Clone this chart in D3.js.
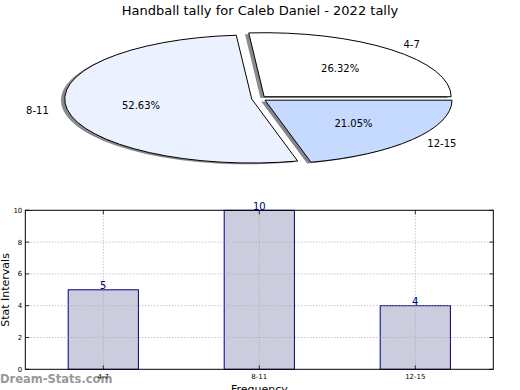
<!DOCTYPE html>
<html>
<head>
<meta charset="utf-8">
<script src="https://cdn.jsdelivr.net/npm/d3@7"></script>
<style>
  body { margin: 0; background: #fff; }
  svg { display: block; font-family: "DejaVu Sans", sans-serif; }
</style>
</head>
<body>
<div id="chart"></div>
<script>
const title = 'Handball tally for Caleb Daniel - 2022 tally';
const categories = ['4-7', '8-11', '12-15'];
const counts = [5, 10, 4];
const pieColors = ['#ffffff', '#ebf1fe', '#c6d9fe'];
const yTicks = [0, 2, 4, 6, 8, 10];

const width = 520, height = 390;

const svg = d3.select('#chart')
  .append('svg')
  .attr('width', width)
  .attr('height', height);

svg.append('text')
  .attr('x', 260)
  .attr('y', 15)
  .attr('text-anchor', 'middle')
  .style('font-size', '13px')
  .text(title);

// pie (squashed, like a non-equal aspect matplotlib pie)
const cx = 259.1, cy = 98.6, rx = 187, ry = 64;
const explode = 0.04;
const total = d3.sum(counts);

const pie = d3.pie()
  .sort(null)
  .startAngle(Math.PI / 2)
  .endAngle(Math.PI / 2 - 2 * Math.PI);
const arcs = pie(counts);
const arc = d3.arc().innerRadius(0).outerRadius(rx);

const pg = svg.append('g')
  .attr('transform', `translate(${cx},${cy}) scale(1,${ry / rx})`);

const mid = d => (d.startAngle + d.endAngle) / 2;
const shift = d => `translate(${explode * rx * Math.sin(mid(d))},${-explode * rx * Math.cos(mid(d))})`;

// shadows first, under all wedges
const sh = pg.append('g').attr('transform', `translate(${-0.02 * rx},${0.02 * rx})`);
sh.selectAll('path')
  .data(arcs)
  .enter()
  .append('path')
  .attr('d', arc)
  .attr('transform', shift)
  .attr('fill', (d, i) => {
    const c = d3.rgb(pieColors[i]);
    return `rgba(${c.r * 0.25},${c.g * 0.25},${c.b * 0.25},0.6)`;
  });

pg.selectAll('path.wedge')
  .data(arcs)
  .enter()
  .append('path')
  .attr('class', 'wedge')
  .attr('d', arc)
  .attr('transform', shift)
  .attr('fill', (d, i) => pieColors[i])
  .attr('stroke', '#000')
  .attr('stroke-width', 1)
  .attr('vector-effect', 'non-scaling-stroke');

// labels
const at = (d, f) => {
  const a = mid(d);
  return [cx + (f + explode) * rx * Math.sin(a), cy - (f + explode) * ry * Math.cos(a)];
};

svg.selectAll('text.plabel')
  .data(arcs)
  .enter()
  .append('text')
  .attr('class', 'plabel')
  .attr('x', d => at(d, 1.1)[0])
  .attr('y', d => at(d, 1.1)[1])
  .attr('dy', '0.35em')
  .attr('text-anchor', d => Math.sin(mid(d)) > 0 ? 'start' : 'end')
  .style('font-size', '10px')
  .text((d, i) => categories[i]);

svg.selectAll('text.pct')
  .data(arcs)
  .enter()
  .append('text')
  .attr('class', 'pct')
  .attr('x', d => at(d, 0.6)[0])
  .attr('y', d => at(d, 0.6)[1])
  .attr('dy', '0.35em')
  .attr('text-anchor', 'middle')
  .style('font-size', '10px')
  .text(d => (d.value / total * 100).toFixed(2) + '%');

// bar chart
const axL = 25.3, axR = 493.3, axT = 210.3, axB = 369.3;

const x = d3.scaleBand()
  .domain(categories)
  .range([axL, axR])
  .paddingInner(0.55)
  .paddingOuter(0.275);

const y = d3.scaleLinear()
  .domain([0, 10])
  .range([axB, axT]);

const xc = c => x(c) + x.bandwidth() / 2;

svg.selectAll('rect.bar')
  .data(counts)
  .enter()
  .append('rect')
  .attr('class', 'bar')
  .attr('x', (d, i) => x(categories[i]))
  .attr('y', d => y(d))
  .attr('width', x.bandwidth())
  .attr('height', d => y(0) - y(d))
  .attr('fill', '#ccccdf')
  .attr('stroke', '#000080')
  .attr('stroke-width', 1);

const grid = svg.append('g')
  .attr('stroke', '#aaa')
  .attr('stroke-width', 1)
  .attr('stroke-dasharray', '1,2');

grid.selectAll('line.gy')
  .data(yTicks.slice(1, -1))
  .enter()
  .append('line')
  .attr('x1', axL).attr('x2', axR)
  .attr('y1', d => y(d)).attr('y2', d => y(d));

grid.selectAll('line.gx')
  .data(categories)
  .enter()
  .append('line')
  .attr('x1', xc).attr('x2', xc)
  .attr('y1', axT).attr('y2', axB);

svg.selectAll('text.val')
  .data(counts)
  .enter()
  .append('text')
  .attr('class', 'val')
  .attr('x', (d, i) => xc(categories[i]))
  .attr('y', d => y(d) - 0.5)
  .attr('text-anchor', 'middle')
  .attr('fill', '#000080')
  .style('font-size', '10px')
  .text(d => d);

svg.append('rect')
  .attr('x', axL).attr('y', axT)
  .attr('width', axR - axL).attr('height', axB - axT)
  .attr('fill', 'none')
  .attr('stroke', '#000')
  .attr('stroke-width', 1);

// ticks (inward, all sides)
const tk = svg.append('g').attr('stroke', '#000').attr('stroke-width', 0.8);
yTicks.forEach(t => {
  tk.append('line').attr('x1', axL).attr('x2', axL + 4).attr('y1', y(t)).attr('y2', y(t));
  tk.append('line').attr('x1', axR).attr('x2', axR - 4).attr('y1', y(t)).attr('y2', y(t));
});
categories.forEach(c => {
  tk.append('line').attr('x1', xc(c)).attr('x2', xc(c)).attr('y1', axB).attr('y2', axB - 4);
  tk.append('line').attr('x1', xc(c)).attr('x2', xc(c)).attr('y1', axT).attr('y2', axT + 4);
});

svg.selectAll('text.yt')
  .data(yTicks)
  .enter()
  .append('text')
  .attr('class', 'yt')
  .attr('x', axL - 3)
  .attr('y', d => y(d))
  .attr('dy', '0.35em')
  .attr('text-anchor', 'end')
  .style('font-size', '7px')
  .text(d => d);

svg.append('text')
  .attr('x', 0)
  .attr('y', 383)
  .attr('fill', '#999')
  .style('font-size', '11.5px')
  .style('font-weight', 'bold')
  .text('Dream-Stats.com');

svg.selectAll('text.xt')
  .data(categories)
  .enter()
  .append('text')
  .attr('class', 'xt')
  .attr('x', xc)
  .attr('y', 377)
  .attr('dy', '0.35em')
  .attr('text-anchor', 'middle')
  .style('font-size', '7px')
  .text(d => d);

svg.append('text')
  .attr('transform', 'translate(9,290) rotate(-90)')
  .attr('text-anchor', 'middle')
  .style('font-size', '11px')
  .text('Stat Intervals');

svg.append('text')
  .attr('x', (axL + axR) / 2)
  .attr('y', 393)
  .attr('text-anchor', 'middle')
  .style('font-size', '11px')
  .text('Frequency');
</script>
</body>
</html>
